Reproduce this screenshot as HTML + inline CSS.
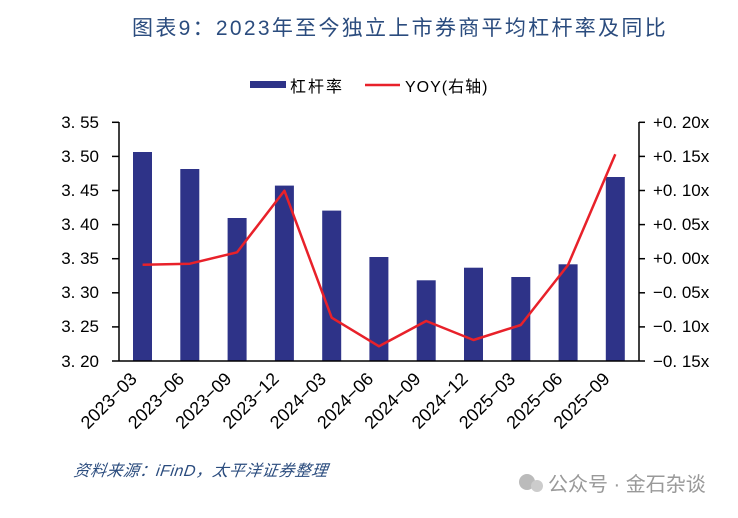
<!DOCTYPE html>
<html><head><meta charset="utf-8"><style>
html,body{margin:0;padding:0;background:#fff;}
svg text{font-family:"Liberation Sans","Noto Sans CJK SC",sans-serif;}
</style></head><body>
<svg width="738" height="513" viewBox="0 0 738 513" xmlns="http://www.w3.org/2000/svg">
<text x="400" y="35" text-anchor="middle" font-size="21" fill="#2b4c7e" font-family="'Noto Sans CJK SC',sans-serif" letter-spacing="2.3">图表9：2023年至今独立上市券商平均杠杆率及同比</text>
<rect x="250" y="81" width="36" height="7" fill="#2e3388"/>
<text x="290" y="92" font-size="16" fill="#000" font-family="'Noto Sans CJK SC',sans-serif" letter-spacing="2">杠杆率</text>
<line x1="365" y1="85" x2="400" y2="85" stroke="#e8212a" stroke-width="2.5"/>
<text x="405" y="92" font-size="16" fill="#000" font-family="'Noto Sans CJK SC',sans-serif" letter-spacing="1">YOY(右轴)</text>
<g fill="#2e3388">
<rect x="133" y="152" width="19" height="209"/>
<rect x="180.3" y="169" width="19" height="192"/>
<rect x="227.6" y="218" width="19" height="143"/>
<rect x="274.9" y="185.6" width="19" height="175.4"/>
<rect x="322.2" y="210.6" width="19" height="150.4"/>
<rect x="369.4" y="257" width="19" height="104"/>
<rect x="416.7" y="280.3" width="19" height="80.7"/>
<rect x="464" y="267.7" width="19" height="93.3"/>
<rect x="511.3" y="277" width="19" height="84"/>
<rect x="558.6" y="264.3" width="19" height="96.7"/>
<rect x="605.8" y="177" width="19" height="184"/>
</g>
<polyline fill="none" stroke="#e8212a" stroke-width="2.5" stroke-linejoin="round" points="142.6,264.7 189.9,263.7 237.1,252.3 284.4,190.7 331.7,317.7 379,346.3 426.2,321 473.5,340 520.8,325 568,265 615.3,154.3"/>
<g stroke="#000" stroke-width="1.5">
<line x1="119" y1="122" x2="119" y2="361"/>
<line x1="639" y1="122" x2="639" y2="361"/>
<line x1="112" y1="361" x2="645" y2="361"/>
<line x1="112" y1="122.3" x2="119" y2="122.3"/><line x1="112" y1="156.4" x2="119" y2="156.4"/><line x1="112" y1="190.5" x2="119" y2="190.5"/><line x1="112" y1="224.6" x2="119" y2="224.6"/><line x1="112" y1="258.7" x2="119" y2="258.7"/><line x1="112" y1="292.8" x2="119" y2="292.8"/><line x1="112" y1="326.9" x2="119" y2="326.9"/>
<line x1="639" y1="122.3" x2="645" y2="122.3"/><line x1="639" y1="156.4" x2="645" y2="156.4"/><line x1="639" y1="190.5" x2="645" y2="190.5"/><line x1="639" y1="224.6" x2="645" y2="224.6"/><line x1="639" y1="258.7" x2="645" y2="258.7"/><line x1="639" y1="292.8" x2="645" y2="292.8"/><line x1="639" y1="326.9" x2="645" y2="326.9"/>
</g>
<g font-size="17" fill="#000" text-anchor="end">
<text x="99" y="128">3. 55</text><text x="99" y="162">3. 50</text><text x="99" y="196">3. 45</text><text x="99" y="230">3. 40</text><text x="99" y="264">3. 35</text><text x="99" y="298">3. 30</text><text x="99" y="332">3. 25</text><text x="99" y="367">3. 20</text>
</g>
<g font-size="17" fill="#000">
<text x="653" y="128">+0. 20x</text><text x="653" y="162">+0. 15x</text><text x="653" y="196">+0. 10x</text><text x="653" y="230">+0. 05x</text><text x="653" y="264">+0. 00x</text><text x="653" y="298">−0. 05x</text><text x="653" y="332">−0. 10x</text><text x="653" y="367">−0. 15x</text>
</g>
<g font-size="18" fill="#000" text-anchor="end">
<text transform="translate(138,380) rotate(-45)">2023−03</text>
<text transform="translate(185.3,380) rotate(-45)">2023−06</text>
<text transform="translate(232.6,380) rotate(-45)">2023−09</text>
<text transform="translate(279.9,380) rotate(-45)">2023−12</text>
<text transform="translate(327.2,380) rotate(-45)">2024−03</text>
<text transform="translate(374.4,380) rotate(-45)">2024−06</text>
<text transform="translate(421.7,380) rotate(-45)">2024−09</text>
<text transform="translate(469,380) rotate(-45)">2024−12</text>
<text transform="translate(516.3,380) rotate(-45)">2025−03</text>
<text transform="translate(563.6,380) rotate(-45)">2025−06</text>
<text transform="translate(610.8,380) rotate(-45)">2025−09</text>
</g>
<text x="74" y="476" font-size="16" fill="#2b4c7e" font-style="italic" font-family="'Noto Sans CJK SC',sans-serif" letter-spacing="0.5" transform="skewX(-8) translate(66,0)">资料来源：iFinD，太平洋证券整理</text>
<circle cx="527" cy="482" r="8" fill="#bbb"/><circle cx="537" cy="486" r="6" fill="#ccc"/>
<text x="548" y="491" font-size="20" fill="#999" font-family="'Noto Sans CJK SC',sans-serif">公众号 · 金石杂谈</text>
</svg>
</body></html>
